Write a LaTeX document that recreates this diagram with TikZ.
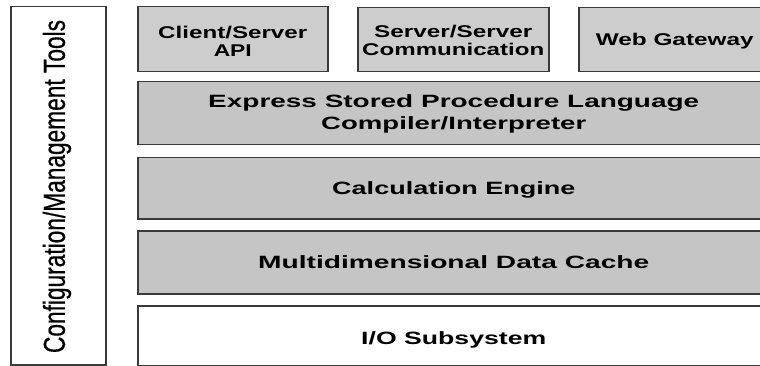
\documentclass[tikz,border=0pt]{standalone}
\usepackage{fontspec}
\setmainfont{Liberation Sans}
\newfontfamily\sidefont[FakeBold=0.7]{Liberation Sans}
\usepackage{graphicx}
% stretch a line of text horizontally to a given width (pt), keeping its height
\newcommand\hfit[2]{\resizebox{#1pt}{\height}{#2}}

\definecolor{edgegray}{HTML}{3A3A3A}
\definecolor{topfill}{HTML}{CDCDCD}
\definecolor{rowfill}{HTML}{C5C5C5}

\begin{document}
\begin{tikzpicture}[x=1pt,y=-1pt,
  box/.style={draw=edgegray, line width=1.5pt, fill=#1, anchor=north west,
    inner sep=0pt, align=center},
  toptext/.style={font=\bfseries\fontsize{17}{16}\selectfont},
  rowtext/.style={font=\bfseries\fontsize{17.8}{21.7}\selectfont},
  lbl/.style={inner sep=0pt, align=center, text depth=0pt}]
\useasboundingbox (0,0) rectangle (760,366);
\clip (0,0) rectangle (760,366);

% side column
\node[box=white, minimum width=95pt, minimum height=358pt] (cfg) at (10,6) {};
\node[lbl, rotate=90, font=\sidefont\fontsize{18.4}{20}\selectfont, text height=21.7pt]
  (cfglabel) at (54,186.5)
  {\resizebox{333pt}{1.65\height}{Configuration/Management Tools}};

% interface boxes
\node[box=topfill, minimum width=190pt, minimum height=65pt] (api) at (137,6) {};
\node[lbl, toptext] (apitext) at ([yshift=-2pt]api.center)
  {\hfit{149}{Client/Server}\\[2pt]\hfit{38}{API}};

\node[box=topfill, minimum width=191pt, minimum height=64pt] (srv) at (357,7) {};
\node[lbl, toptext] (srvtext) at ([yshift=-1pt]srv.center)
  {\hfit{158}{Server/Server}\\[2pt]\hfit{182}{Communication}};

\node[box=topfill, minimum width=192pt, minimum height=64pt] (web) at (578,7) {};
\node[lbl, toptext, text height=12.2pt] (webtext) at (web.center)
  {\hfit{158}{Web Gateway}};

% layered engine
\node[box=rowfill, minimum width=632pt, minimum height=63pt] (spl) at (137,81) {};
\node[lbl, rowtext] (spltext) at ([yshift=1pt]spl.center)
  {\hfit{491}{Express Stored Procedure Language}\\\hfit{265}{Compiler/Interpreter}};

\node[box=rowfill, minimum width=632pt, minimum height=61pt] (calc) at (137,157) {};
\node[lbl, rowtext, text height=12.8pt] (calctext) at (calc.center)
  {\hfit{243}{Calculation Engine}};

\node[box=rowfill, minimum width=632pt, minimum height=63pt] (mdc) at (137,230) {};
\node[lbl, rowtext, text height=12.8pt] (mdctext) at (mdc.center)
  {\hfit{391}{Multidimensional Data Cache}};

\node[box=white, minimum width=632pt, minimum height=60pt] (io) at (137,305) {};
\node[lbl, rowtext, text height=12.8pt] (iotext) at ([yshift=-2pt]io.center)
  {\hfit{185}{I/O Subsystem}};
\end{tikzpicture}
\end{document}
